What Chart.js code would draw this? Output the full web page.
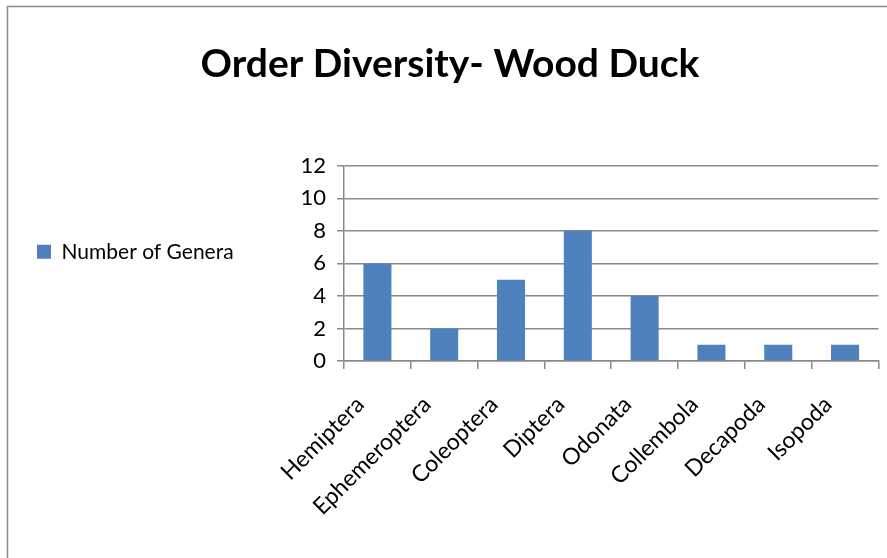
<!DOCTYPE html>
<html>
<head>
<meta charset="utf-8">
<script src="https://cdn.jsdelivr.net/npm/chart.js@4/dist/chart.umd.min.js"></script>
<style>
  html, body { margin: 0; padding: 0; background: #ffffff; }
  #wrap { width: 887px; height: 558px; }
</style>
</head>
<body>
<div id="wrap"><canvas id="c" width="887" height="558"></canvas></div>
<script>
const chartTitle = 'Order Diversity- Wood Duck';
const categories = ['Hemiptera', 'Ephemeroptera', 'Coleoptera', 'Diptera', 'Odonata', 'Collembola', 'Decapoda', 'Isopoda'];
const seriesName = 'Number of Genera';
const generaCounts = [6, 2, 5, 8, 4, 1, 1, 1];
const yMin = 0, yMax = 12, yStep = 2;

const FONT = 'Lato';
const legendFontSize = 21;
const legendPad = 17;
const legendBox = 14;

// measure legend width to size the y axis so the plot starts where the reference does
const mctx = document.createElement('canvas').getContext('2d');
mctx.font = legendFontSize + 'px ' + FONT;
const legendTextW = mctx.measureText(seriesName).width;
const legendWidthEst = legendPad + legendBox + legendFontSize / 2 + legendTextW + 10;

const framePlugin = {
  id: 'frame',
  beforeDraw(chart) {
    const ctx = chart.ctx;
    ctx.save();
    ctx.fillStyle = '#ffffff';
    ctx.fillRect(0, 0, chart.width, chart.height);
    ctx.strokeStyle = '#8a8a8a';
    ctx.lineWidth = 1.5;
    ctx.beginPath();
    ctx.moveTo(7.5, chart.height + 2);
    ctx.lineTo(7.5, 6.5);
    ctx.lineTo(chart.width + 2, 6.5);
    ctx.stroke();
    ctx.restore();
  }
};

new Chart(document.getElementById('c'), {
  type: 'bar',
  data: {
    labels: categories,
    datasets: [{
      label: seriesName,
      data: generaCounts,
      backgroundColor: '#4F81BD',
      borderWidth: 0,
      categoryPercentage: 1.0,
      barPercentage: 0.42
    }]
  },
  options: {
    responsive: false,
    animation: false,
    devicePixelRatio: 1,
    layout: { padding: { left: 20, right: 7, top: 0, bottom: 0 } },
    plugins: {
      title: {
        display: true,
        text: chartTitle,
        color: '#000000',
        font: { family: FONT, size: 39, weight: 'bold', lineHeight: 1.2 },
        padding: { top: 41, bottom: 78 }
      },
      legend: {
        display: true,
        position: 'left',
        align: 'start',
        fullSize: false,
        title: { display: true, text: '', font: { size: 10, lineHeight: 1.2 }, padding: { top: 46.5, bottom: 0 } },
        labels: {
          color: '#000000',
          font: { family: FONT, size: legendFontSize },
          boxWidth: legendBox,
          boxHeight: legendBox,
          padding: legendPad
        }
      },
      tooltip: { enabled: false }
    },
    scales: {
      x: {
        offset: true,
        grid: {
          offset: true,
          drawOnChartArea: false,
          drawTicks: true,
          tickLength: 8,
          color: '#8a8a8a',
          lineWidth: 1.5
        },
        border: { display: true, color: '#8a8a8a', width: 1.5 },
        ticks: {
          color: '#000000',
          font: { family: FONT, size: 23 },
          minRotation: 45,
          maxRotation: 45,
          padding: 22,
          labelOffset: -17,
          autoSkip: false
        },
        afterFit(s) { s.height = 558 - 361; }
      },
      y: {
        min: yMin,
        max: yMax,
        ticks: {
          stepSize: yStep,
          color: '#000000',
          font: { family: FONT, size: 22 },
          padding: 11
        },
        grid: {
          color: '#8a8a8a',
          lineWidth: 1.5,
          tickLength: 7,
          drawTicks: true
        },
        border: { display: true, color: '#8a8a8a', width: 1.5 },
        afterFit(s) {
          const lw = (s.chart.legend && s.chart.legend.width > 0) ? s.chart.legend.width : legendWidthEst;
          s.width = 344 - 20 - lw;
        }
      }
    }
  },
  plugins: [framePlugin]
});
</script>
</body>
</html>
